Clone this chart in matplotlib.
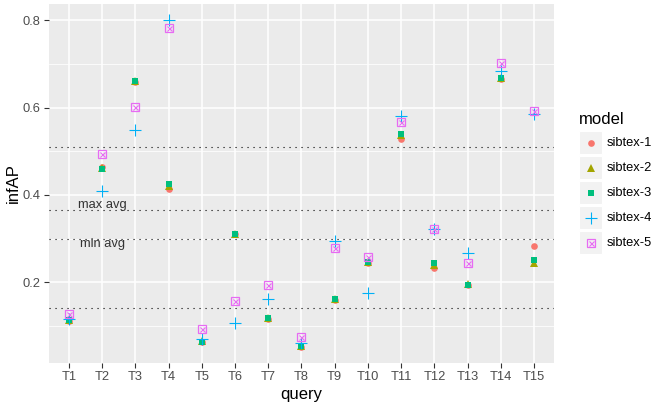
import matplotlib
matplotlib.use("Agg")
import matplotlib.pyplot as plt
from matplotlib.patches import Rectangle

plt.rcParams['font.family'] = ['Liberation Sans', 'DejaVu Sans']

queries = ["T1", "T2", "T3", "T4", "T5", "T6", "T7", "T8", "T9", "T10",
           "T11", "T12", "T13", "T14", "T15"]
models = ["sibtex-1", "sibtex-2", "sibtex-3", "sibtex-4", "sibtex-5"]

sibtex_1 = [0.112, 0.463, 0.659, 0.414, 0.064, 0.310, 0.115, 0.052, 0.160, 0.243,
            0.529, 0.233, 0.194, 0.666, 0.282]
sibtex_2 = [0.113, 0.461, 0.660, 0.420, 0.065, 0.311, 0.117, 0.053, 0.161, 0.246,
            0.537, 0.240, 0.195, 0.667, 0.245]
sibtex_3 = [0.113, 0.460, 0.660, 0.424, 0.064, 0.310, 0.118, 0.053, 0.161, 0.247,
            0.540, 0.244, 0.194, 0.667, 0.252]
sibtex_4 = [0.115, 0.409, 0.548, 0.800, 0.071, 0.107, 0.162, 0.061, 0.294, 0.176,
            0.582, 0.322, 0.267, 0.684, 0.586]
sibtex_5 = [0.128, 0.493, 0.601, 0.783, 0.092, 0.156, 0.194, 0.075, 0.278, 0.259,
            0.567, 0.322, 0.244, 0.702, 0.592]

ref_lines = [0.511, 0.366, 0.299, 0.142]
ref_labels = ["max avg", "min avg"]
ref_label_y = [0.378, 0.288]

series = [sibtex_1, sibtex_2, sibtex_3, sibtex_4, sibtex_5]
colors = ["#F8766D", "#A3A500", "#00BF7D", "#00B0F6", "#E76BF3"]

W, H = 655, 407
fig = plt.figure(figsize=(W / 100, H / 100), dpi=100)
pl, pr, pt, pb = 49, 554, 4, 363
ax = fig.add_axes([pl / W, 1 - pb / H, (pr - pl) / W, (pb - pt) / H])
ax.set_facecolor("#EBEBEB")
for s in ax.spines.values():
    s.set_visible(False)

x = list(range(len(queries)))
ax.set_xlim(-0.6, len(queries) - 0.4)
ax.set_ylim(0.015, 0.8375)
ax.set_yticks([0.2, 0.4, 0.6, 0.8])
ax.set_yticklabels(["0.2", "0.4", "0.6", "0.8"])
ax.set_yticks([0.1, 0.3, 0.5, 0.7], minor=True)
ax.set_xticks(x)
ax.set_xticklabels(queries)
ax.grid(True, which="major", color="white", lw=1.1)
ax.grid(True, which="minor", axis="y", color="white", lw=0.55)
ax.set_axisbelow(True)
ax.tick_params(which="major", length=3.5, width=0.8, color="#333333",
               labelsize=9.3, labelcolor="#4D4D4D", pad=2.5)
ax.tick_params(which="minor", length=0)


def draw(target, i, xs, ys):
    c = colors[i]
    if i == 0:
        target.plot(xs, ys, 'o', ms=4.8, color=c, mew=0, zorder=3)
    elif i == 1:
        target.plot(xs, ys, '^', ms=5.2, color=c, mew=0, zorder=3)
    elif i == 2:
        target.plot(xs, ys, 's', ms=4.6, color=c, mew=0, zorder=3)
    elif i == 3:
        target.plot(xs, ys, '+', ms=8, color=c, mew=0.8, zorder=3)
    else:
        target.plot(xs, ys, 's', ms=5.2, mfc='none', mec=c, mew=0.9, zorder=3)
        target.plot(xs, ys, 'x', ms=3.6, color=c, mew=0.8, zorder=3)


for i, vals in enumerate(series):
    draw(ax, i, x, vals)

for v in ref_lines:
    ax.axhline(v, color="black", lw=0.8, linestyle=(0, (1, 4.4)), zorder=2)
for lab, yv in zip(ref_labels, ref_label_y):
    ax.text(1, yv, lab, ha="center", va="center", fontsize=9.3, color="#333333")

ax.set_xlabel("query", fontsize=12, color="black", labelpad=3)
ax.set_ylabel("infAP", fontsize=12, color="black", labelpad=1)

# legend drawn in figure pixel coordinates
lg = fig.add_axes([0, 0, 1, 1])
lg.set_xlim(0, W)
lg.set_ylim(H, 0)
lg.axis("off")
lg.text(579, 120, "model", ha="left", va="center", fontsize=12, color="black")
for i, m in enumerate(models):
    cy = 142.7 + 25 * i
    lg.add_patch(Rectangle((579, cy - 11.5), 23, 23, facecolor="#F2F2F2",
                           edgecolor="white", lw=0.8))
    draw(lg, i, [590.5], [cy])
    lg.text(607, cy, m, ha="left", va="center", fontsize=9.3, color="black")

fig.savefig("out.png", dpi=100)
